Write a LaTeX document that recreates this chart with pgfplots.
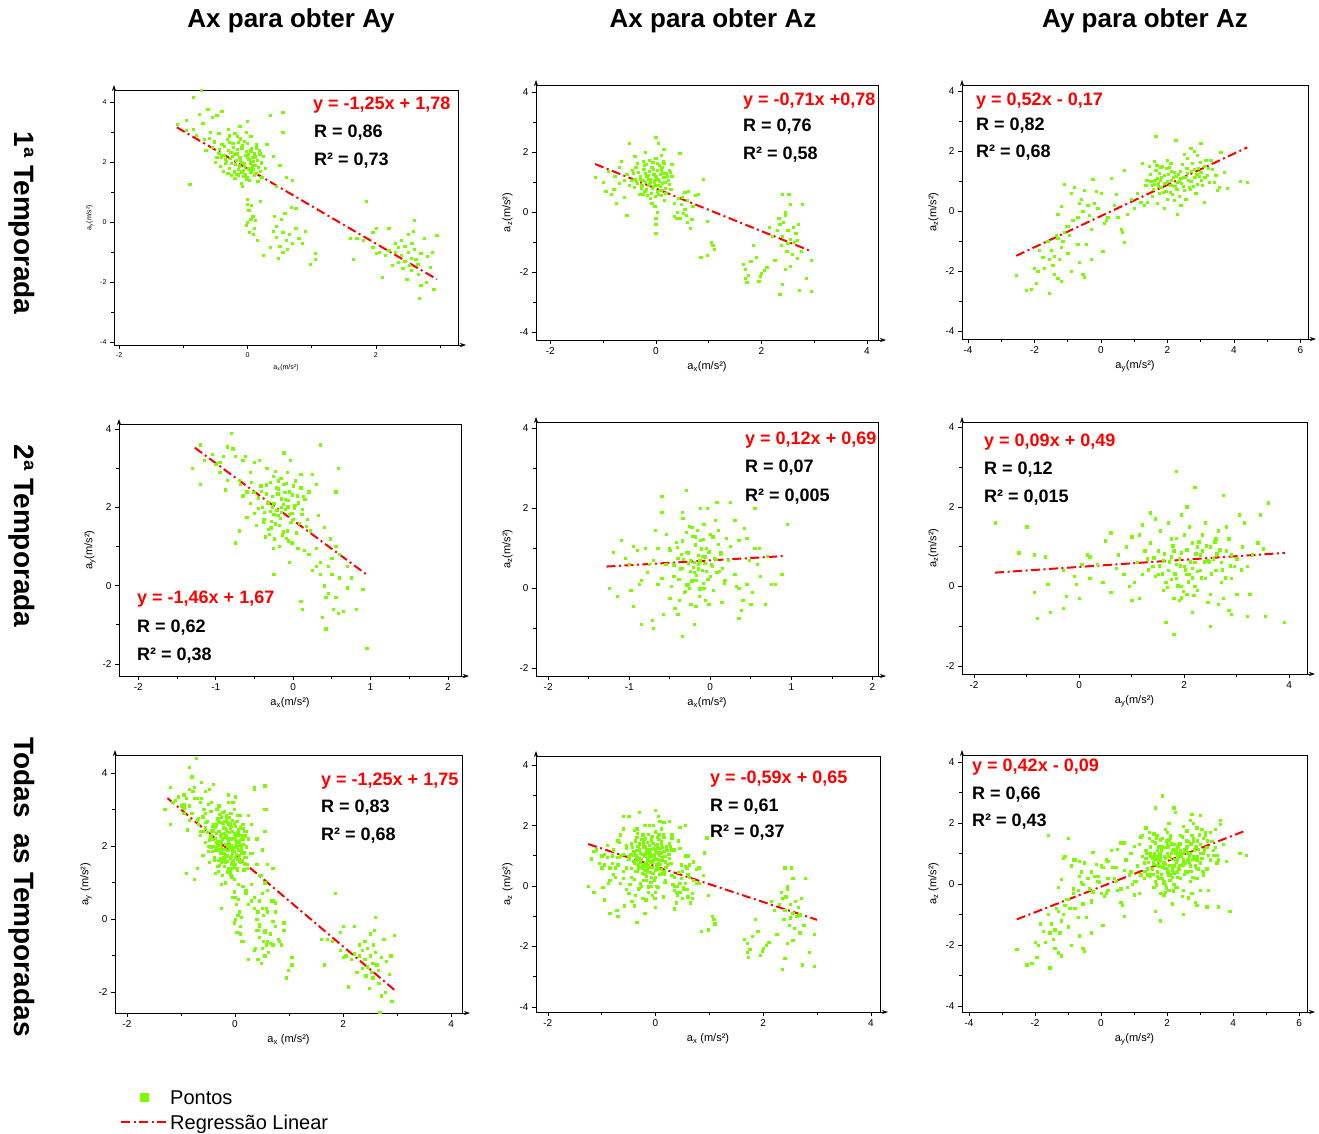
\documentclass[border=0pt]{standalone}
\usepackage{fontspec}
\setmainfont{Liberation Sans}
\usepackage{pgfplots}
\usepackage{pgfplotstable}
\pgfplotsset{compat=1.18}
\usetikzlibrary{arrows.meta}

\definecolor{ptgreen}{RGB}{124,252,0}
\definecolor{regred}{RGB}{255,0,0}

% temporada 1: ax, ay, az
\pgfplotstableread[row sep=\\]{
x y\\
-0.10 2.00\\ -0.05 1.85\\ 0.02 2.10\\ -0.20 2.25\\ -0.15 1.75\\ 0.05 1.65\\ -0.30 2.40\\ -0.25 1.95\\ 0.10 2.30\\ -0.08 2.55\\
0.00 1.50\\ -0.35 2.10\\ 0.12 1.90\\ -0.18 1.60\\ -0.02 2.35\\ 0.08 1.75\\ -0.40 2.60\\ -0.12 2.15\\ 0.15 2.05\\ -0.28 1.80\\
-0.05 2.70\\ 0.03 1.40\\ -0.22 2.50\\ -0.45 2.30\\ 0.20 1.70\\ -0.10 1.30\\ -0.32 2.75\\ 0.06 2.45\\ -0.16 2.85\\ -0.50 2.00\\
0.18 2.40\\ -0.06 1.95\\ -0.24 2.20\\ 0.01 2.25\\ -0.38 1.70\\ -0.14 2.65\\ 0.10 1.55\\ -0.55 2.50\\ -0.20 1.45\\ 0.25 2.20\\
-0.60 2.80\\ -0.30 3.10\\ -0.02 3.00\\ -0.45 2.95\\ 0.05 2.85\\ -0.12 3.20\\ -0.65 2.40\\ 0.28 1.80\\ -0.08 1.20\\ 0.00 3.35\\
-0.25 1.55\\ 0.14 2.60\\ -0.35 1.95\\ 0.22 1.50\\ -0.42 1.85\\ -0.18 2.05\\ 0.08 2.15\\ -0.28 2.65\\ -0.04 1.60\\ 0.16 1.35\\
-0.11 2.08\\ -0.19 1.92\\ 0.04 1.98\\ -0.26 2.32\\ -0.07 1.72\\ 0.11 2.18\\ -0.33 2.02\\ -0.16 2.42\\ 0.07 1.88\\ -0.21 1.68\\
-0.03 2.22\\ 0.13 1.62\\ -0.36 2.52\\ -0.09 2.48\\ -0.27 2.12\\ 0.02 1.78\\ -0.13 1.88\\ -0.41 2.18\\ 0.17 1.82\\ -0.23 2.62\\
-0.01 2.62\\ 0.09 2.02\\ -0.31 1.62\\ -0.17 2.28\\ -0.06 1.52\\ 0.19 2.28\\ -0.44 2.42\\ -0.14 1.58\\ 0.05 2.38\\ -0.29 2.88\\
-0.52 2.68\\ -0.02 1.42\\ 0.21 1.98\\ -0.37 2.22\\ -0.11 2.78\\ 0.00 2.15\\ -0.48 2.15\\ -0.20 2.95\\ 0.14 2.48\\ -0.09 1.68\\
-1.10 3.25\\ -0.95 3.40\\ -0.85 3.10\\ -0.75 3.60\\ -0.70 3.30\\ -0.80 2.90\\ -0.62 3.75\\ -0.55 3.50\\ -0.90 1.25\\ -0.72 4.40\\
-0.85 4.15\\ -0.48 3.55\\ -0.40 3.70\\ -0.68 2.75\\ -0.58 3.00\\ -0.95 3.05\\
0.35 3.55\\ 0.55 3.65\\ 0.40 2.20\\ 0.50 1.90\\ 0.60 1.50\\ 0.70 1.40\\ 0.55 3.00\\ 0.30 2.60\\ 0.45 1.20\\
0.00 0.60\\ 0.02 0.40\\ 0.05 0.10\\ -0.02 -0.10\\ 0.03 -0.35\\ 0.08 0.20\\ 0.10 -0.20\\ 0.00 0.00\\ 0.06 0.55\\ -0.01 0.75\\
0.12 0.05\\ 0.15 -0.60\\ 0.09 -0.40\\ 0.20 0.70\\ 0.25 -1.10\\
0.40 -0.30\\ 0.45 -0.50\\ 0.50 -0.80\\ 0.55 -0.35\\ 0.60 -0.60\\ 0.48 -1.20\\ 0.52 0.10\\ 0.58 0.30\\ 0.62 -0.90\\ 0.65 -0.40\\
0.42 0.20\\ 0.70 -0.70\\ 0.55 -1.00\\ 0.35 -0.85\\ 0.68 0.50\\ 0.45 -0.15\\ 0.75 -0.20\\ 0.80 -0.55\\ 0.90 -0.30\\ 0.98 -1.40\\
1.05 -1.05\\ 1.05 -1.25\\ 0.85 -0.70\\ 0.75 0.45\\
1.65 -1.25\\ 1.70 -0.55\\ 1.80 -0.60\\ 1.85 0.70\\ 1.95 -0.35\\ 2.00 -0.20\\ 2.05 -1.00\\ 2.10 -1.85\\ 2.00 -1.05\\ 1.95 -0.85\\
2.20 -0.20\\ 2.15 -1.10\\ 1.60 -0.55\\
2.30 -1.00\\ 2.35 -0.85\\ 2.40 -1.10\\ 2.45 -1.30\\ 2.50 -1.00\\ 2.55 -1.20\\ 2.60 -0.90\\ 2.65 -1.40\\ 2.40 -0.60\\ 2.50 -0.40\\
2.55 -1.60\\ 2.62 -1.25\\ 2.70 -1.05\\ 2.35 -1.35\\ 2.45 -0.80\\ 2.48 -1.90\\ 2.58 -0.30\\ 2.60 0.05\\ 2.75 -0.55\\ 2.80 -1.15\\
2.85 -1.50\\ 2.70 -2.10\\ 2.68 -2.55\\ 2.90 -2.25\\ 2.95 -0.45\\ 2.25 -1.45\\ 2.30 -0.70\\ 2.52 -1.45\\ 2.66 -1.75\\ 2.78 -2.00\\
2.42 -1.55\\ 2.56 -0.70\\ 2.20 -0.95\\ 2.88 -1.00\\
}\tAxAy

\pgfplotstableread[row sep=\\]{
x y\\
-0.10 1.00\\ 0.00 1.20\\ -0.05 0.85\\ 0.05 1.10\\ -0.20 1.30\\ -0.15 0.90\\ 0.10 1.40\\ -0.25 1.05\\ 0.02 0.70\\ -0.08 1.50\\
0.12 0.95\\ -0.30 1.20\\ -0.02 1.05\\ 0.08 1.25\\ -0.18 0.75\\ -0.35 0.95\\ 0.15 1.15\\ -0.12 1.35\\ 0.00 0.90\\ -0.22 1.55\\
0.04 0.60\\ -0.28 0.80\\ 0.18 0.80\\ -0.40 1.10\\ 0.20 1.30\\ -0.06 1.65\\ 0.10 0.55\\ -0.45 1.40\\ -0.14 1.10\\ 0.06 1.55\\
-0.32 0.60\\ 0.24 1.05\\ -0.04 1.25\\ -0.50 0.90\\ 0.14 1.70\\ -0.24 1.70\\ 0.28 0.75\\ -0.10 0.45\\ -0.55 1.25\\ 0.00 1.80\\
-0.38 1.50\\ 0.16 0.40\\ -0.16 0.55\\ 0.30 1.20\\ -0.60 1.05\\ -0.20 1.00\\ 0.08 0.85\\ -0.08 0.30\\
-0.11 1.08\\ -0.03 0.98\\ 0.07 1.02\\ -0.17 1.18\\ -0.27 0.88\\ 0.13 1.28\\ -0.07 0.78\\ 0.03 1.38\\ -0.21 0.68\\ 0.17 0.98\\
-0.33 1.32\\ -0.13 0.92\\ 0.01 1.12\\ -0.37 1.02\\ 0.09 0.72\\ -0.23 1.42\\ 0.21 1.18\\ -0.05 1.42\\ -0.15 1.22\\ 0.05 0.88\\
-0.29 1.08\\ 0.11 1.48\\ -0.41 0.82\\ -0.09 0.62\\ 0.19 0.62\\ -0.19 1.58\\ 0.25 0.92\\ -0.01 0.52\\ -0.43 1.28\\ -0.25 0.58\\
0.15 1.62\\ -0.35 1.62\\ 0.03 1.62\\ -0.13 1.72\\ -0.47 1.05\\ 0.27 1.32\\
0.00 2.50\\ 0.05 2.30\\ -0.50 2.30\\ -0.20 2.00\\ 0.15 2.10\\ 0.10 1.90\\ -0.40 1.85\\ 0.30 1.60\\ 0.45 1.95\\ 0.25 1.40\\
-1.15 1.15\\ -1.00 1.00\\ -0.90 1.35\\ -0.80 0.75\\ -0.75 0.30\\ -0.70 1.50\\ -0.65 1.70\\ -0.85 0.60\\ -0.95 0.70\\ -0.60 0.50\\
-0.55 -0.10\\ -0.70 0.95\\ -0.78 1.20\\
0.00 -0.40\\ 0.00 -0.70\\ 0.00 -0.20\\ 0.02 0.00\\ -0.02 0.20\\
0.35 0.30\\ 0.40 0.00\\ 0.45 -0.20\\ 0.50 0.50\\ 0.55 0.10\\ 0.60 -0.35\\ 0.62 0.70\\ 0.65 -0.55\\ 0.55 0.65\\ 0.38 -0.20\\
0.48 0.25\\ 0.58 -0.10\\ 0.70 0.20\\ 0.75 0.55\\ 0.68 -0.25\\ 0.52 -0.05\\ 0.42 0.45\\ 0.80 0.60\\ 0.90 1.10\\ 0.98 -0.30\\
0.35 -0.15\\ 0.60 0.40\\
0.85 -1.50\\ 0.98 -1.45\\ 1.05 -1.00\\ 1.10 -1.25\\ 1.08 -1.10\\
1.65 -1.75\\ 1.70 -2.20\\ 1.75 -2.10\\ 1.80 -1.65\\ 1.70 -1.90\\ 1.85 -1.10\\ 1.95 -2.30\\ 2.00 -2.05\\ 2.05 -1.95\\ 1.90 -1.50\\
1.98 -2.15\\ 2.10 -1.85\\ 1.72 -2.35\\
2.30 -0.60\\ 2.35 -0.40\\ 2.40 -0.80\\ 2.45 -0.10\\ 2.50 -0.60\\ 2.55 -0.90\\ 2.45 0.00\\ 2.40 0.60\\ 2.52 0.60\\ 2.60 -0.50\\
2.65 -0.70\\ 2.70 -0.40\\ 2.38 -1.10\\ 2.48 -1.30\\ 2.58 -1.40\\ 2.62 -1.00\\ 2.55 -1.80\\ 2.45 -1.90\\ 2.68 -1.55\\ 2.75 -1.30\\
2.40 -2.40\\ 2.35 -2.75\\ 2.72 -2.60\\ 2.85 -2.20\\ 2.95 -2.65\\ 2.95 -1.60\\ 2.20 -0.80\\ 2.25 -1.60\\ 2.15 -0.50\\ 2.33 -0.20\\
2.55 0.25\\ 2.78 0.25\\ 2.68 -0.95\\ 2.50 -1.05\\ 2.42 -0.35\\
}\tAxAz

\pgfplotstableread[row sep=\\]{
x y\\
1.50 1.00\\ 1.60 0.90\\ 1.70 1.10\\ 1.80 0.80\\ 1.90 1.20\\ 2.00 1.00\\ 2.10 0.85\\ 2.20 1.30\\ 2.30 0.95\\ 2.40 1.10\\
2.50 0.70\\ 2.60 1.25\\ 2.70 1.00\\ 2.80 1.40\\ 2.90 0.90\\ 3.00 1.30\\ 3.10 1.50\\ 3.20 1.20\\ 1.65 1.35\\ 1.75 0.60\\
1.85 1.50\\ 1.95 0.65\\ 2.05 1.45\\ 2.15 0.55\\ 2.25 1.15\\ 2.35 0.50\\ 2.45 1.55\\ 2.55 0.40\\ 2.65 0.80\\ 2.75 1.60\\
2.85 0.60\\ 2.95 1.15\\ 3.05 0.85\\ 3.15 1.70\\ 3.25 0.95\\ 3.35 1.40\\ 3.45 1.20\\ 3.55 0.80\\ 1.40 0.30\\ 1.45 1.50\\
1.55 0.50\\ 1.35 0.85\\ 1.25 1.60\\ 1.30 0.20\\ 1.60 1.65\\ 1.70 0.25\\ 1.80 1.45\\ 2.20 0.35\\ 2.40 0.20\\ 2.30 -0.10\\
2.60 1.75\\ 2.90 1.85\\ 3.00 2.25\\ 2.70 2.10\\ 2.25 2.35\\ 1.65 2.50\\ 2.00 1.70\\ 2.10 1.60\\ 2.50 1.90\\ 2.80 2.00\\
3.30 1.70\\ 3.60 1.95\\ 3.70 1.30\\ 3.50 0.70\\ 3.10 0.30\\ 2.00 0.40\\ 1.90 0.10\\ 1.55 0.85\\ 1.75 1.25\\ 2.35 1.00\\
3.40 0.95\\ 3.80 0.75\\ 4.20 1.00\\ 4.40 0.95\\
1.62 1.02\\ 1.72 0.92\\ 1.82 1.12\\ 1.92 0.92\\ 2.02 1.22\\ 2.12 1.02\\ 2.22 0.82\\ 2.32 1.22\\ 2.42 0.92\\ 2.52 1.12\\
2.62 1.02\\ 2.72 1.32\\ 2.82 1.12\\ 2.92 1.42\\ 3.02 1.02\\ 1.58 0.72\\ 1.68 1.52\\ 1.78 1.02\\ 1.88 0.62\\ 1.98 1.42\\
2.08 0.62\\ 2.18 1.12\\ 2.28 0.72\\ 2.38 1.32\\ 2.48 0.82\\ 2.58 1.42\\ 2.68 0.72\\ 2.78 0.82\\ 2.88 1.22\\ 2.98 1.62\\
3.12 1.12\\ 3.22 1.42\\ 1.48 1.22\\ 1.38 1.02\\ 2.12 1.32\\ 1.72 0.82\\
-1.30 -0.10\\ -1.20 0.15\\ -1.10 0.90\\ -1.00 -0.50\\ -0.90 0.60\\ -0.80 0.80\\ -0.70 -0.20\\ -0.60 0.40\\ -0.50 0.70\\ -0.40 0.20\\
-0.30 -0.60\\ -0.20 0.25\\ -0.10 0.10\\ 0.00 0.60\\ 0.10 -0.40\\ 0.20 -0.20\\ 0.30 1.10\\ 0.40 0.20\\ 0.50 -0.20\\ 0.60 -0.60\\
0.70 1.35\\ 0.65 -0.70\\ -0.25 1.05\\ -0.55 0.00\\ -0.85 -0.30\\ -0.15 0.65\\ 0.15 -0.30\\ 0.45 0.55\\ 0.90 0.40\\ 1.00 0.10\\
1.10 0.60\\ 0.80 -0.10\\ -0.65 0.25\\ -0.35 -0.15\\ 0.05 -1.35\\ 0.70 -1.05\\ 1.20 0.30\\
-1.60 -1.00\\ -1.50 -1.30\\ -1.40 -1.50\\ -1.30 -0.90\\ -1.20 -1.20\\ -1.10 -0.70\\ -1.00 -1.40\\ -1.25 -1.60\\ -1.45 -1.80\\ -1.35 -0.80\\
-1.15 -1.00\\ -1.05 -0.50\\ -0.95 -0.80\\ -1.55 -1.60\\ -1.70 -1.90\\ -1.85 -1.30\\ -1.90 -2.00\\ -2.00 -1.90\\ -1.95 -2.40\\ -2.25 -2.65\\
-2.55 -2.15\\ -2.10 -2.60\\ -1.55 -2.75\\ -1.20 -2.35\\ -1.40 -2.10\\ -0.90 -2.00\\ -0.65 -1.70\\ -0.55 -2.10\\ -0.50 -2.20\\ -0.45 -1.10\\
-0.30 -1.60\\ -0.70 -1.10\\ -1.75 -1.55\\ -1.30 -2.25\\
}\tAyAz

% temporada 2
\pgfplotstableread[row sep=\\]{
x y\\
-0.15 2.00\\ -0.10 2.20\\ -0.20 1.80\\ -0.05 2.40\\ -0.25 2.10\\ 0.00 1.70\\ -0.30 1.90\\ -0.12 2.60\\ -0.18 1.55\\ 0.05 2.30\\
-0.35 2.35\\ -0.08 1.40\\ -0.22 2.50\\ 0.02 2.05\\ -0.28 1.65\\ -0.02 1.85\\ -0.40 2.00\\ 0.08 1.60\\ -0.16 2.75\\ -0.32 1.45\\
0.10 2.50\\ -0.45 2.25\\ -0.06 1.15\\ -0.26 2.80\\ 0.12 1.95\\ -0.38 1.70\\ -0.14 1.30\\ 0.15 2.20\\ -0.50 1.85\\ -0.20 2.35\\
0.00 2.55\\ -0.10 1.95\\ -0.30 2.65\\ 0.04 1.35\\ -0.24 1.20\\ -0.42 2.55\\ 0.18 1.70\\ -0.08 2.90\\ -0.55 2.10\\ -0.18 1.00\\
0.20 2.40\\ -0.48 1.55\\ -0.34 3.00\\ 0.06 0.95\\ -0.60 1.75\\ 0.22 1.40\\ -0.04 3.20\\ -0.12 3.40\\ 0.25 2.85\\ -0.02 1.10\\
-0.36 1.25\\ -0.65 2.30\\ 0.30 2.60\\ 0.14 0.90\\ -0.26 0.95\\ 0.10 2.85\\ -0.44 3.20\\ -0.54 2.65\\ 0.35 3.60\\ 0.32 1.80\\
-0.70 1.40\\
-0.13 2.08\\ -0.21 1.92\\ -0.07 2.18\\ -0.27 2.28\\ -0.17 1.72\\ 0.01 1.98\\ -0.33 2.12\\ -0.11 2.38\\ -0.23 1.58\\ -0.03 1.62\\
-0.37 1.88\\ -0.09 2.62\\ -0.19 2.48\\ 0.07 2.12\\ -0.29 1.48\\ -0.15 2.22\\ -0.01 2.32\\ -0.41 2.42\\ -0.25 1.82\\ -0.05 1.82\\
0.11 1.82\\ -0.35 2.58\\ -0.13 1.38\\ -0.19 2.68\\ 0.03 2.68\\ -0.45 1.98\\ -0.31 1.32\\ -0.09 1.22\\ 0.13 2.28\\ -0.23 2.92\\
-0.51 2.38\\ 0.17 1.52\\ -0.39 1.62\\ -0.15 1.88\\ -0.07 2.02\\ -0.27 2.02\\
-1.30 3.00\\ -1.20 3.60\\ -1.15 3.20\\ -1.20 2.60\\ -1.05 3.35\\ -0.95 2.90\\ -0.90 3.30\\ -0.85 3.55\\ -0.80 3.90\\ -0.78 3.50\\
-0.75 3.30\\ -0.70 2.70\\ -0.65 3.20\\ -0.60 2.40\\ -0.85 2.70\\ -0.95 3.15\\ -0.75 1.10\\ -0.55 2.90\\ -0.50 3.15\\ -0.62 3.30\\
-1.00 3.10\\ -0.88 2.45\\ -0.68 2.60\\
0.20 0.80\\ 0.25 0.40\\ 0.30 0.95\\ 0.35 0.60\\ 0.40 0.00\\ 0.45 0.50\\ 0.42 -0.30\\ 0.50 0.70\\ 0.52 -0.60\\ 0.55 1.00\\
0.60 0.20\\ 0.58 -0.70\\ 0.38 -0.80\\ 0.42 -1.10\\ 0.65 -0.65\\ 0.70 0.50\\ 0.75 0.20\\ 0.82 -0.60\\ 0.90 -0.10\\ 0.95 -1.60\\
0.48 1.20\\ 0.55 2.40\\ 0.58 3.00\\ 0.35 0.30\\ 0.45 -0.20\\ 0.50 0.30\\ 0.60 0.80\\ 0.30 0.50\\ 0.40 1.50\\ 0.55 -0.30\\
0.70 -0.05\\ 0.10 -0.40\\ 0.12 -0.60\\ -0.05 0.60\\ -0.25 0.30\\
}\tBxAy

\pgfplotstableread[row sep=\\]{
x y\\
-0.15 0.60\\ -0.10 0.80\\ -0.20 0.40\\ -0.05 1.00\\ -0.25 0.70\\ 0.00 0.30\\ -0.30 0.90\\ -0.12 1.20\\ -0.18 0.20\\ 0.05 0.75\\
-0.35 0.50\\ -0.08 0.00\\ -0.22 1.30\\ 0.02 0.55\\ -0.28 0.10\\ -0.02 0.90\\ -0.40 0.75\\ 0.08 0.40\\ -0.16 1.45\\ -0.32 -0.10\\
0.10 1.10\\ -0.45 0.30\\ -0.06 -0.30\\ -0.26 1.55\\ 0.12 0.85\\ -0.38 -0.30\\ -0.14 -0.20\\ 0.15 0.50\\ -0.50 0.95\\ -0.20 0.65\\
0.00 1.35\\ -0.10 0.45\\ -0.30 1.40\\ 0.04 -0.05\\ -0.24 -0.40\\ -0.42 1.15\\ 0.18 0.20\\ -0.08 1.60\\ -0.55 0.60\\ -0.18 -0.45\\
0.20 1.25\\ -0.48 0.05\\ -0.34 1.75\\ 0.06 1.70\\ -0.60 0.25\\ 0.22 0.70\\ -0.04 2.00\\ -0.12 2.00\\ 0.25 1.05\\ -0.02 -0.40\\
-0.36 0.85\\ -0.65 1.00\\ 0.30 0.35\\ 0.14 -0.35\\ -0.26 0.00\\ 0.10 1.45\\ -0.44 -0.50\\ -0.54 1.35\\ 0.35 1.20\\ 0.32 0.05\\
-0.70 0.70\\ -0.30 2.45\\ -0.60 2.30\\ -0.35 1.90\\ 0.08 2.15\\
-0.13 0.68\\ -0.21 0.52\\ -0.07 0.78\\ -0.27 0.88\\ -0.17 0.32\\ 0.01 0.58\\ -0.33 0.72\\ -0.11 0.98\\ -0.23 0.18\\ -0.03 0.22\\
-0.37 0.48\\ -0.09 1.22\\ -0.19 1.08\\ 0.07 0.72\\ -0.29 0.08\\ -0.15 0.82\\ -0.01 0.92\\ -0.41 1.02\\ -0.25 0.42\\ -0.05 0.42\\
0.11 0.42\\ -0.35 1.18\\ -0.13 -0.02\\ -0.19 1.28\\ 0.03 1.28\\ -0.45 0.58\\ -0.31 -0.08\\ -0.09 0.12\\ 0.13 0.88\\ -0.23 1.52\\
-0.51 0.98\\ 0.17 0.12\\ -0.39 0.22\\ -0.15 0.48\\ -0.07 0.62\\ -0.27 0.62\\
-1.25 0.00\\ -1.20 0.90\\ -1.15 -0.20\\ -1.10 1.20\\ -1.05 0.75\\ -1.00 0.60\\ -0.98 -0.05\\ -0.95 1.05\\ -0.90 0.95\\ -0.85 0.20\\
-0.85 -0.90\\ -0.80 1.00\\ -0.75 0.60\\ -0.72 -0.80\\ -0.70 -1.00\\ -0.68 1.45\\ -0.65 0.10\\ -0.58 -0.65\\ -0.60 1.90\\ -0.95 -0.45\\
-0.78 0.40\\ -0.88 0.10\\ -0.35 -1.20\\ -0.40 -0.65\\ -0.50 -0.25\\ -0.20 -0.90\\
0.35 0.00\\ 0.40 -0.30\\ 0.45 0.10\\ 0.50 -0.40\\ 0.55 1.00\\ 0.58 0.60\\ 0.60 1.00\\ 0.55 2.00\\ 0.62 0.30\\ 0.68 -0.40\\
0.70 0.80\\ 0.75 0.10\\ 0.80 0.10\\ 0.88 0.35\\ 0.95 1.60\\ 0.35 -0.75\\ 0.42 1.50\\ 0.48 0.70\\ 0.30 1.70\\ 0.25 2.15\\
0.38 -0.55\\ 0.52 -0.10\\ 0.45 1.25\\
}\tBxAz

\pgfplotstableread[row sep=\\]{
x y\\
2.00 0.50\\ 1.90 0.70\\ 2.10 0.30\\ 1.80 0.90\\ 2.20 0.60\\ 1.70 0.40\\ 2.30 0.80\\ 1.60 0.65\\ 2.40 0.20\\ 1.50 0.90\\
2.50 1.00\\ 1.40 0.50\\ 2.60 0.40\\ 1.30 0.70\\ 2.70 0.60\\ 1.20 0.30\\ 2.80 0.90\\ 1.10 0.60\\ 2.90 0.20\\ 3.00 0.70\\
1.95 0.00\\ 2.05 -0.20\\ 1.85 0.20\\ 2.15 1.10\\ 1.75 1.20\\ 2.25 -0.10\\ 1.65 0.10\\ 2.35 1.30\\ 1.55 1.40\\ 2.45 -0.40\\
1.45 0.25\\ 2.55 0.70\\ 1.35 1.10\\ 2.65 1.40\\ 1.25 0.90\\ 2.75 -0.30\\ 1.15 1.30\\ 2.85 1.20\\ 1.05 0.10\\ 2.95 0.50\\
1.90 -0.35\\ 2.00 1.30\\ 2.10 1.50\\ 1.80 -0.30\\ 2.20 0.00\\ 1.70 1.60\\ 2.30 0.40\\ 1.60 -0.10\\ 2.40 1.60\\ 1.50 0.30\\
2.50 -0.20\\ 2.60 1.20\\ 2.70 0.10\\ 2.80 1.50\\ 2.90 0.80\\ 3.00 -0.20\\ 3.10 1.00\\ 3.20 0.50\\ 3.30 0.80\\ 3.25 -0.20\\
3.40 1.10\\ 3.50 0.95\\ 3.15 1.60\\ 3.05 1.80\\ 2.85 -0.60\\ 2.65 -0.45\\ 1.95 1.80\\ 2.05 2.00\\ 1.85 2.90\\ 2.20 2.50\\
2.75 2.30\\ 3.60 2.10\\ 3.45 1.80\\ 3.90 -0.90\\ 3.55 -0.75\\ 3.20 -0.75\\ 2.90 -0.70\\ 2.50 -1.00\\ 2.15 -0.65\\ 1.80 -1.20\\
1.65 -0.90\\ 1.00 -0.35\\ 1.15 -0.30\\ 0.95 0.00\\ 1.00 1.25\\ 1.20 1.55\\ 1.45 1.70\\ 1.35 1.85\\ 0.90 1.00\\ 2.35 0.90\\
2.45 0.65\\ 1.95 0.85\\ 2.05 0.30\\ 2.15 0.45\\ 1.85 0.55\\ 2.25 1.00\\ 1.75 0.75\\
1.92 0.52\\ 2.02 0.42\\ 2.12 0.62\\ 1.82 0.32\\ 2.22 0.82\\ 1.72 0.62\\ 2.32 0.22\\ 1.62 0.82\\ 2.42 1.02\\ 1.52 0.52\\
2.52 0.32\\ 2.62 0.82\\ 2.72 0.42\\ 1.42 0.72\\ 1.88 0.02\\ 1.98 -0.12\\ 2.08 0.12\\ 2.18 -0.22\\ 1.78 1.02\\ 2.28 1.12\\
1.68 -0.02\\ 2.38 0.62\\ 1.58 0.32\\ 2.48 0.62\\ 2.58 1.12\\ 2.68 0.92\\ 2.78 0.22\\ 2.88 0.52\\ 1.95 -0.28\\ 2.05 0.92\\
1.85 1.22\\ 2.15 0.22\\ 2.25 0.38\\ 1.75 0.18\\ 3.08 0.42\\ 1.32 0.42\\
-1.60 1.60\\ -1.00 1.50\\ -1.15 0.85\\ -0.85 0.80\\ -0.85 -0.15\\ -0.80 -0.80\\ -0.65 0.75\\ -0.55 -0.65\\ -0.60 0.05\\ -0.30 -0.55\\
-0.25 -0.25\\ -0.10 0.25\\ -0.05 0.05\\ 0.00 -0.30\\ 0.05 0.55\\ 0.15 0.80\\ 0.20 0.75\\ 0.20 0.20\\ 0.35 0.55\\ 0.45 0.10\\
0.50 1.15\\ 0.60 1.35\\ 0.60 -0.15\\ 0.70 0.45\\ 0.75 0.80\\ 0.85 0.30\\ -0.30 0.40\\
}\tByAz

\pgfplotsset{
  painel/.style={
    scale only axis, clip=false,
    tick align=outside, xtick pos=left, ytick pos=left,
    major tick length=4pt, minor tick length=3pt,
    tick style={black, line width=0.6pt},
    axis line style={black, line width=0.6pt},
    tick label style={font=\fontsize{10}{12}\selectfont},
    label style={font=\fontsize{11}{13}\selectfont},
    /pgf/number format/assume math mode=true,
  },
  pontos/.style={only marks, mark=square*, mark size=1.15pt, color=ptgreen, forget plot},
  regr/.style={regred, line width=2pt, dash pattern=on 9pt off 3.5pt on 2pt off 3.5pt},
}
\tikzset{
  eq/.style={anchor=west, inner sep=0pt, font=\fontsize{18}{20}\selectfont\bfseries, text=regred},
  rv/.style={eq, text=black},
  titulo/.style={font=\fontsize{26}{30}\selectfont\bfseries},
  linha/.style={rotate=-90, font=\fontsize{28}{30}\selectfont\bfseries},
}
\newcommand{\setas}{%
  \draw[line width=0.6pt,-{Stealth[length=6pt,width=4pt]}] (rel axis cs:0,1) -- ([yshift=5pt]rel axis cs:0,1);
  \draw[line width=0.6pt,-{Stealth[length=6pt,width=4pt]}] (rel axis cs:1,0) -- ([xshift=8pt]rel axis cs:1,0);}

\begin{document}
\begin{tikzpicture}
\useasboundingbox (0,0) rectangle (1319pt,-1133pt);

% ---------- linha 1 ----------
\begin{axis}[painel, at={(114pt,-90pt)}, anchor=north west, width=344pt, height=255pt,
  xmin=-2.08, xmax=3.28, ymin=-4.1, ymax=4.4,
  xtick={-2,0,2}, minor xtick={-1,1,3}, ytick={-4,-2,0,2,4}, minor ytick={-3,-1,1,3},
  tick label style={font=\fontsize{7}{8}\selectfont}, label style={font=\fontsize{7}{8}\selectfont},
  xlabel={a\textsubscript{x}(m/s²)}, ylabel={a\textsubscript{y}(m/s²)}]
\addplot[pontos] table {\tAxAy};
\addplot[regr] coordinates {(-1.10,3.155) (2.95,-1.9075)};
\setas
\end{axis}

\begin{axis}[painel, at={(536pt,-85pt)}, anchor=north west, width=342pt, height=255pt,
  xmin=-2.27, xmax=4.21, ymin=-4.27, ymax=4.23,
  xtick={-2,0,2,4}, minor xtick={-1,1,3}, ytick={-4,-2,0,2,4}, minor ytick={-3,-1,1,3},
  xlabel={a\textsubscript{x}(m/s²)}, ylabel={a\textsubscript{z}(m/s²)}]
\addplot[pontos] table {\tAxAz};
\addplot[regr] coordinates {(-1.15,1.5965) (2.95,-1.3145)};
\setas
\end{axis}

\begin{axis}[painel, at={(962pt,-85pt)}, anchor=north west, width=346pt, height=254pt,
  xmin=-4.18, xmax=6.23, ymin=-4.27, ymax=4.2,
  xtick={-4,-2,0,2,4,6}, minor xtick={-3,-1,1,3,5}, ytick={-4,-2,0,2,4}, minor ytick={-3,-1,1,3},
  xlabel={a\textsubscript{y}(m/s²)}, ylabel={a\textsubscript{z}(m/s²)}]
\addplot[pontos] table {\tAyAz};
\addplot[regr] coordinates {(-2.55,-1.496) (4.40,2.118)};
\setas
\end{axis}

% ---------- linha 2 ----------
\begin{axis}[painel, at={(119pt,-424pt)}, anchor=north west, width=342pt, height=252pt,
  xmin=-2.25, xmax=2.17, ymin=-2.31, ymax=4.13,
  xtick={-2,-1,0,1,2}, minor xtick={-1.5,-0.5,0.5,1.5}, ytick={-2,0,2,4}, minor ytick={-1,1,3},
  xlabel={a\textsubscript{x}(m/s²)}, ylabel={a\textsubscript{y}(m/s²)}]
\addplot[pontos] table {\tBxAy};
\addplot[regr] coordinates {(-1.27,3.5242) (0.95,0.283)};
\setas
\end{axis}

\begin{axis}[painel, at={(536pt,-422pt)}, anchor=north west, width=342pt, height=254pt,
  xmin=-2.15, xmax=2.07, ymin=-2.2, ymax=4.15,
  xtick={-2,-1,0,1,2}, minor xtick={-1.5,-0.5,0.5,1.5}, ytick={-2,0,2,4}, minor ytick={-1,1,3},
  xlabel={a\textsubscript{x}(m/s²)}, ylabel={a\textsubscript{z}(m/s²)}]
\addplot[pontos] table {\tBxAz};
\addplot[regr] coordinates {(-1.28,0.5364) (0.90,0.798)};
\setas
\end{axis}

\begin{axis}[painel, at={(962pt,-422pt)}, anchor=north west, width=345pt, height=252pt,
  xmin=-2.23, xmax=4.34, ymin=-2.2, ymax=4.13,
  xtick={-2,0,2,4}, minor xtick={-1,1,3}, ytick={-2,0,2,4}, minor ytick={-1,1,3},
  xlabel={a\textsubscript{y}(m/s²)}, ylabel={a\textsubscript{z}(m/s²)}]
\addplot[pontos] table {\tByAz};
\addplot[regr] coordinates {(-1.60,0.346) (3.92,0.8428)};
\setas
\end{axis}

% ---------- linha 3 ----------
\begin{axis}[painel, at={(115pt,-755pt)}, anchor=north west, width=347pt, height=258pt,
  xmin=-2.22, xmax=4.2, ymin=-2.57, ymax=4.49,
  xtick={-2,0,2,4}, minor xtick={-1,1,3}, ytick={-2,0,2,4}, minor ytick={-1,1,3},
  xlabel={a\textsubscript{x} (m/s²)}, ylabel={a\textsubscript{y} (m/s²)},
  legend style={at={(axis description cs:0.0145,-0.38)}, anchor=west, draw=none, fill=none,
    font=\fontsize{20}{24}\selectfont, inner sep=0pt, row sep=5pt},
  legend cell align=left,
  legend image code/.code={\draw[mark repeat=2,mark phase=2,#1] plot coordinates {(0pt,1pt) (23pt,1pt) (46pt,1pt)};}]
\addplot[pontos] table {\tAxAy};
\addplot[pontos] table {\tBxAy};
\addplot[regr, forget plot] coordinates {(-1.25,3.3125) (2.95,-1.9375)};
\setas
\addlegendimage{only marks, mark=square*, mark size=4pt, color=ptgreen}
\addlegendentry{Pontos}
\addlegendimage{regr}
\addlegendentry{Regressão Linear}
\end{axis}

\begin{axis}[painel, at={(536pt,-756pt)}, anchor=north west, width=344pt, height=256pt,
  xmin=-2.22, xmax=4.17, ymin=-4.17, ymax=4.3,
  xtick={-2,0,2,4}, minor xtick={-1,1,3}, ytick={-4,-2,0,2,4}, minor ytick={-3,-1,1,3},
  xlabel={a\textsubscript{x} (m/s²)}, ylabel={a\textsubscript{z} (m/s²)}]
\addplot[pontos] table {\tAxAz};
\addplot[pontos] table {\tBxAz};
\addplot[regr] coordinates {(-1.25,1.3875) (3.00,-1.12)};
\setas
\end{axis}

\begin{axis}[painel, at={(962pt,-755pt)}, anchor=north west, width=345pt, height=257pt,
  xmin=-4.21, xmax=6.24, ymin=-4.2, ymax=4.23,
  xtick={-4,-2,0,2,4,6}, minor xtick={-3,-1,1,3,5}, ytick={-4,-2,0,2,4}, minor ytick={-3,-1,1,3},
  xlabel={a\textsubscript{y}(m/s²)}, ylabel={a\textsubscript{z} (m/s²)}]
\addplot[pontos] table {\tAyAz};
\addplot[pontos] table {\tByAz};
\addplot[regr] coordinates {(-2.55,-1.161) (4.40,1.758)};
\setas
\end{axis}

% ---------- titulos ----------
\node[titulo] at (291pt,-21pt) {Ax para obter Ay};
\node[titulo] at (713pt,-21pt) {Ax para obter Az};
\node[titulo] at (1145pt,-21pt) {Ay para obter Az};
\node[linha] at (22pt,-223pt) {1ª Temporada};
\node[linha] at (22pt,-536pt) {2ª Temporada};
\node[linha] at (22pt,-887pt) {Todas\ \ as Temporadas};

% ---------- equacoes ----------
\node[eq] at (313pt,-105pt) {y = -1,25x + 1,78};
\node[rv] at (314pt,-133pt) {R = 0,86};
\node[rv] at (314pt,-161pt) {R² = 0,73};

\node[eq] at (743pt,-101pt) {y = -0,71x +0,78};
\node[rv] at (743pt,-127pt) {R = 0,76};
\node[rv] at (743pt,-155pt) {R² = 0,58};

\node[eq] at (976pt,-101pt) {y = 0,52x - 0,17};
\node[rv] at (976pt,-126pt) {R = 0,82};
\node[rv] at (976pt,-153pt) {R² = 0,68};

\node[eq] at (137pt,-599pt) {y = -1,46x + 1,67};
\node[rv] at (137pt,-628pt) {R = 0,62};
\node[rv] at (137pt,-656pt) {R² = 0,38};

\node[eq] at (745pt,-440pt) {y = 0,12x + 0,69};
\node[rv] at (745pt,-468pt) {R = 0,07};
\node[rv] at (745pt,-497pt) {R² = 0,005};

\node[eq] at (984pt,-442pt) {y = 0,09x + 0,49};
\node[rv] at (984pt,-470pt) {R = 0,12};
\node[rv] at (984pt,-498pt) {R² = 0,015};

\node[eq] at (321pt,-781pt) {y = -1,25x + 1,75};
\node[rv] at (321pt,-808pt) {R = 0,83};
\node[rv] at (321pt,-836pt) {R² = 0,68};

\node[eq] at (710pt,-779pt) {y = -0,59x + 0,65};
\node[rv] at (710pt,-807pt) {R = 0,61};
\node[rv] at (710pt,-833pt) {R² = 0,37};

\node[eq] at (972pt,-767pt) {y = 0,42x - 0,09};
\node[rv] at (972pt,-795pt) {R = 0,66};
\node[rv] at (972pt,-822pt) {R² = 0,43};
\end{tikzpicture}
\end{document}
